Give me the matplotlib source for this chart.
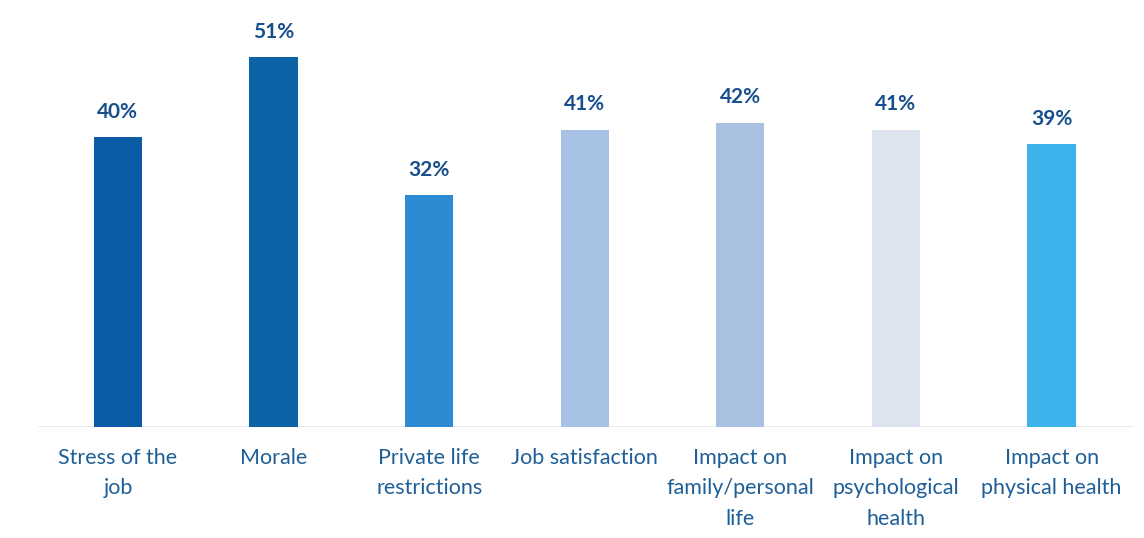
import numpy as np
from matplotlib import pyplot as plt
import matplotlib

matplotlib.rcParams['font.family'] = ['Lato', 'DejaVu Sans']
matplotlib.rcParams['font.size'] = 15.5

#%% Data
categories = ['Stress of the\njob', 'Morale', 'Private life\nrestrictions', 'Job satisfaction',
              'Impact on\nfamily/personal\nlife', 'Impact on\npsychological\nhealth',
              'Impact on\nphysical health']
values = [40, 51, 32, 41, 42, 41, 39]
colors = ['#0b5ba6', '#0c64a6', '#2d8bd3', '#a8c2e6', '#a9c0e0', '#dde3ef', '#3cb3eb']

label_color = '#1f5f98'
value_color = '#174f8c'

#%% Plot
fig = plt.figure(figsize=(11.44, 5.38), dpi=100)
ax = fig.add_axes([0, 111/538, 1, 427/538])

x = np.arange(len(values))
bars = ax.bar(x, values, width=0.31, color=colors, zorder=2)

for xi, v in zip(x, values):
    ax.annotate(f'{v}%', (xi, v), xytext=(0, 11), textcoords='offset points',
                ha='center', va='bottom', color=value_color, fontsize=15, fontweight='bold')

ax.axhline(0, xmin=0.034, xmax=0.99, color='#e6e6e6', linewidth=1.2, zorder=1)

ax.set_xlim(-0.758, 6.594)
ax.set_ylim(0, 58.9)
ax.set_xticks(x)
ax.set_xticklabels(categories, color=label_color, fontsize=15.5, linespacing=1.65)
ax.tick_params(axis='x', length=0, pad=15)
ax.set_yticks([])
for s in ax.spines.values():
    s.set_visible(False)

fig.savefig('out.png', dpi=100)
